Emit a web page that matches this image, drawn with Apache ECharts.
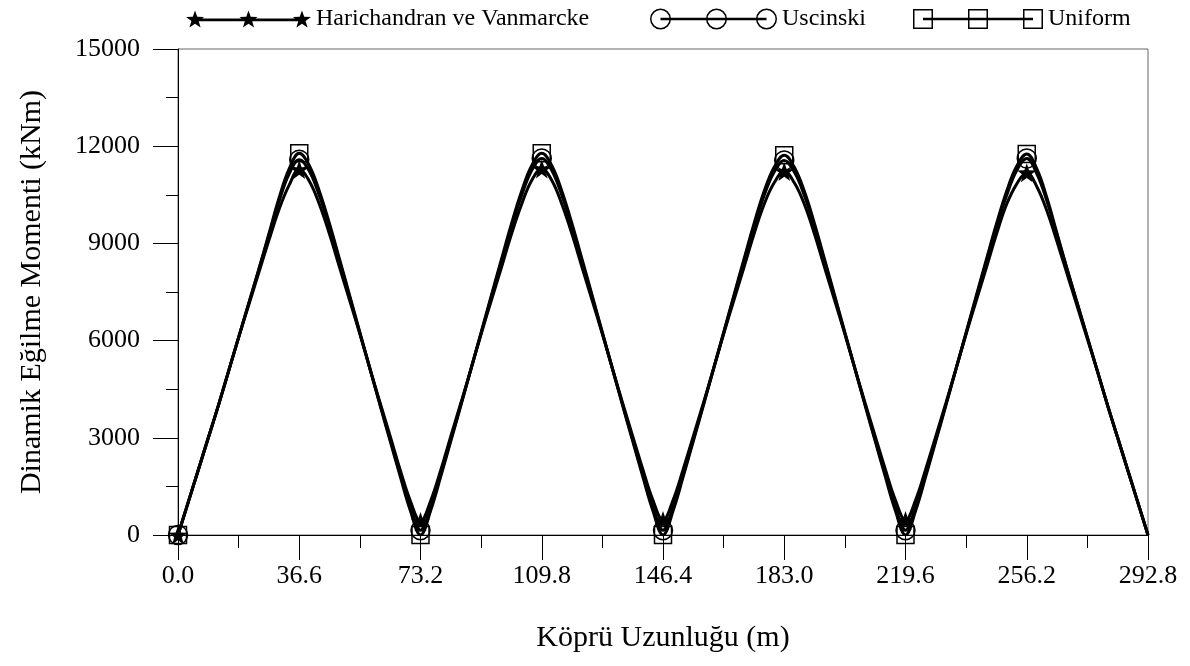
<!DOCTYPE html>
<html>
<head>
<meta charset="utf-8">
<script src="https://cdn.jsdelivr.net/npm/echarts@6/dist/echarts.min.js"></script>
<style>html,body{margin:0;padding:0;background:#fff}#c{width:1190px;height:666px}</style>
</head>
<body>
<div id="c"></div>
<script>
// ---- data ----
const seriesNames = ['Harichandran ve Vanmarcke', 'Uscinski', 'Uniform'];
const positions = [
  0, 3.05, 6.1, 9.15, 12.2, 15.25, 18.3, 21.35, 24.4, 27.45, 30.5, 33.55, 36.6,
  39.65, 42.7, 45.75, 48.8, 51.85, 54.9, 57.95, 61.0, 64.05, 67.1, 70.15, 73.2,
  76.25, 79.3, 82.35, 85.4, 88.45, 91.5, 94.55, 97.6, 100.65, 103.7, 106.75, 109.8,
  112.85, 115.9, 118.95, 122.0, 125.05, 128.1, 131.15, 134.2, 137.25, 140.3, 143.35, 146.4,
  149.45, 152.5, 155.55, 158.6, 161.65, 164.7, 167.75, 170.8, 173.85, 176.9, 179.95, 183.0,
  186.05, 189.1, 192.15, 195.2, 198.25, 201.3, 204.35, 207.4, 210.45, 213.5, 216.55, 219.6,
  222.65, 225.7, 228.75, 231.8, 234.85, 237.9, 240.95, 244.0, 247.05, 250.1, 253.15, 256.2,
  259.25, 262.3, 265.35, 268.4, 271.45, 274.5, 277.55, 280.6, 283.65, 286.7, 289.75, 292.8];
const harichandran = [
  0, 1000, 2000, 3000, 4000, 5050, 6100, 7100, 8100, 9100, 10050, 10800, 11280,
  10920, 10200, 9280, 8250, 7230, 6200, 5130, 4080, 3050, 2000, 1050, 420,
  1050, 2000, 3050, 4080, 5130, 6200, 7230, 8250, 9280, 10200, 10940, 11300,
  10940, 10200, 9280, 8250, 7230, 6200, 5130, 4080, 3050, 2030, 1080, 450,
  1080, 2030, 3050, 4080, 5130, 6200, 7230, 8250, 9280, 10200, 10870, 11220,
  10870, 10200, 9280, 8250, 7230, 6200, 5130, 4080, 3050, 2030, 1080, 450,
  1080, 2030, 3050, 4080, 5130, 6200, 7230, 8250, 9280, 10200, 10830, 11180,
  10750, 10000, 9050, 8050, 7050, 6050, 5050, 4000, 3000, 2000, 1000, 0];
const uscinski = [
  0, 1000, 2000, 3000, 4000, 5050, 6100, 7150, 8200, 9250, 10300, 11150, 11580,
  11230, 10470, 9500, 8430, 7330, 6230, 5130, 4030, 2950, 1880, 870, 150,
  870, 1880, 2950, 4030, 5130, 6230, 7330, 8430, 9500, 10470, 11250, 11620,
  11250, 10470, 9500, 8430, 7330, 6230, 5130, 4030, 2950, 1880, 870, 150,
  870, 1880, 2950, 4030, 5130, 6230, 7330, 8430, 9500, 10470, 11200, 11560,
  11200, 10470, 9500, 8430, 7330, 6230, 5130, 4030, 2950, 1880, 870, 150,
  870, 1880, 2950, 4030, 5130, 6230, 7330, 8430, 9500, 10470, 11250, 11620,
  11150, 10300, 9250, 8200, 7150, 6100, 5050, 4000, 3000, 2000, 1000, 0];
const uniform = [
  0, 1000, 2000, 3000, 4000, 5050, 6100, 7150, 8200, 9300, 10400, 11300, 11780,
  11400, 10600, 9600, 8500, 7380, 6250, 5130, 4000, 2900, 1800, 750, 0,
  750, 1800, 2900, 4000, 5130, 6250, 7380, 8500, 9600, 10600, 11400, 11780,
  11400, 10600, 9600, 8500, 7380, 6250, 5130, 4000, 2900, 1800, 750, 0,
  750, 1800, 2900, 4000, 5130, 6250, 7380, 8500, 9600, 10600, 11350, 11720,
  11350, 10600, 9600, 8500, 7380, 6250, 5130, 4000, 2900, 1800, 750, 0,
  750, 1800, 2900, 4000, 5130, 6250, 7380, 8500, 9600, 10600, 11380, 11760,
  11300, 10400, 9300, 8200, 7150, 6100, 5050, 4000, 3000, 2000, 1000, 0];
const markerPositions = [0, 36.6, 73.2, 109.8, 146.4, 183.0, 219.6, 256.2];
const xAxisRange = [0, 292.8, 36.6];
const yAxisRange = [0, 15000, 3000];
const xTitle = 'Köprü Uzunluğu (m)';
const yTitle = 'Dinamik Eğilme Momenti (kNm)';

// ---- shapes ----
function starPath(cx, cy, R, r) {
  let d = '';
  for (let k = 0; k < 10; k++) {
    const a = -Math.PI / 2 + k * Math.PI / 5;
    const rad = k % 2 === 0 ? R : r;
    const x = (cx + rad * Math.cos(a)).toFixed(2), y = (cy + rad * Math.sin(a)).toFixed(2);
    d += (k === 0 ? 'M' : 'L') + x + ' ' + y;
  }
  return d + 'Z';
}
function ringPath(cx, cy, R, r) {
  return `M${cx - R} ${cy}A${R} ${R} 0 1 1 ${cx + R} ${cy}A${R} ${R} 0 1 1 ${cx - R} ${cy}Z` +
         `M${cx - r} ${cy}A${r} ${r} 0 1 0 ${cx + r} ${cy}A${r} ${r} 0 1 0 ${cx - r} ${cy}Z`;
}
function squarePath(cx, cy, R, r) {
  return `M${cx - R} ${cy - R}H${cx + R}V${cy + R}H${cx - R}Z` +
         `M${cx - r} ${cy - r}V${cy + r}H${cx + r}V${cy - r}Z`;
}
function linePath(x1, x2, cy, w) {
  return `M${x1} ${cy - w / 2}H${x2}V${cy + w / 2}H${x1}Z`;
}
const starIcon = 'path://' + linePath(9.5, 116.5, 10, 2.6) + starPath(9.5, 10, 9.5, 3.8) + starPath(63, 10, 9.5, 3.8) + starPath(116.5, 10, 9.5, 3.8);
const circleIcon = 'path://' + linePath(10.5, 116.5, 10.5, 2.6) + ringPath(10.5, 10.5, 10.5, 9) + ringPath(66.5, 10.5, 10.5, 9) + ringPath(116.5, 10.5, 10.5, 9);
const squareIcon = 'path://' + linePath(10, 120, 10, 2.6) + squarePath(10, 10, 10, 8.5) + squarePath(65, 10, 10, 8.5) + squarePath(120, 10, 10, 8.5);
const starSymbol = 'path://' + starPath(10, 10, 10, 4);

const FONT = 'Liberation Serif';

function makeData(values, symbol) {
  return positions.map((x, i) => ({
    value: [x, values[i]],
    symbol: markerPositions.indexOf(x) >= 0 ? symbol : 'none'
  }));
}

const lineCommon = {
  type: 'line',
  smooth: 0.4,
  showSymbol: true,
  lineStyle: { color: '#000', width: 3 },
  emphasis: { disabled: true },
  z: 3
};
const legendCommon = {
  textStyle: { fontFamily: FONT, fontSize: 24, color: '#000' },
  itemStyle: { color: '#000', borderWidth: 0 },
  selectedMode: false, padding: 0, itemGap: 0
};

const chart = echarts.init(document.getElementById('c'), null, { renderer: 'canvas' });
chart.setOption({
  animation: false,
  backgroundColor: '#fff',
  grid: { left: 178, right: 42, top: 49, bottom: 131, show: true, borderColor: '#666', borderWidth: 1, containLabel: false },
  legend: [
    Object.assign({ data: [{ name: seriesNames[0], icon: starIcon }], left: 186, top: 7, itemWidth: 125, itemHeight: 17.2 }, legendCommon),
    Object.assign({ data: [{ name: seriesNames[1], icon: circleIcon }], left: 650, top: 7, itemWidth: 127, itemHeight: 21 }, legendCommon),
    Object.assign({ data: [{ name: seriesNames[2], icon: squareIcon }], left: 913, top: 7, itemWidth: 130, itemHeight: 20 }, legendCommon)
  ],
  xAxis: {
    type: 'value', min: xAxisRange[0], max: xAxisRange[1], interval: xAxisRange[2],
    axisLine: { show: true, onZero: false, lineStyle: { color: '#000', width: 1 } },
    axisTick: { show: true, inside: false, length: 25, lineStyle: { color: '#000' } },
    minorTick: { show: true, splitNumber: 2, length: 13, lineStyle: { color: '#000' } },
    splitLine: { show: false },
    axisLabel: { formatter: v => v.toFixed(1), margin: 28, fontFamily: FONT, fontSize: 26, color: '#000' },
    name: xTitle, nameLocation: 'middle', nameGap: 88,
    nameTextStyle: { fontFamily: FONT, fontSize: 30, color: '#000' }
  },
  yAxis: {
    type: 'value', min: yAxisRange[0], max: yAxisRange[1], interval: yAxisRange[2],
    axisLine: { show: true, onZero: false, lineStyle: { color: '#000', width: 1 } },
    axisTick: { show: true, inside: false, length: 25, lineStyle: { color: '#000' } },
    minorTick: { show: true, splitNumber: 2, length: 12, lineStyle: { color: '#000' } },
    splitLine: { show: false },
    axisLabel: { formatter: v => String(v), margin: 38, fontFamily: FONT, fontSize: 26, color: '#000' },
    name: yTitle, nameLocation: 'middle', nameGap: 131,
    nameTextStyle: { fontFamily: FONT, fontSize: 30, color: '#000' }
  },
  series: [
    Object.assign({}, lineCommon, {
      name: seriesNames[0], data: makeData(harichandran, starSymbol), symbolSize: 19,
      itemStyle: { color: '#000', borderWidth: 0 }
    }),
    Object.assign({}, lineCommon, {
      name: seriesNames[1], data: makeData(uscinski, 'circle'), symbolSize: 19,
      itemStyle: { color: 'rgba(0,0,0,0)', borderColor: '#000', borderWidth: 1.5 }
    }),
    Object.assign({}, lineCommon, {
      name: seriesNames[2], data: makeData(uniform, 'rect'), symbolSize: 17,
      itemStyle: { color: 'rgba(0,0,0,0)', borderColor: '#000', borderWidth: 1.5 }
    })
  ]
});
</script>
</body>
</html>
